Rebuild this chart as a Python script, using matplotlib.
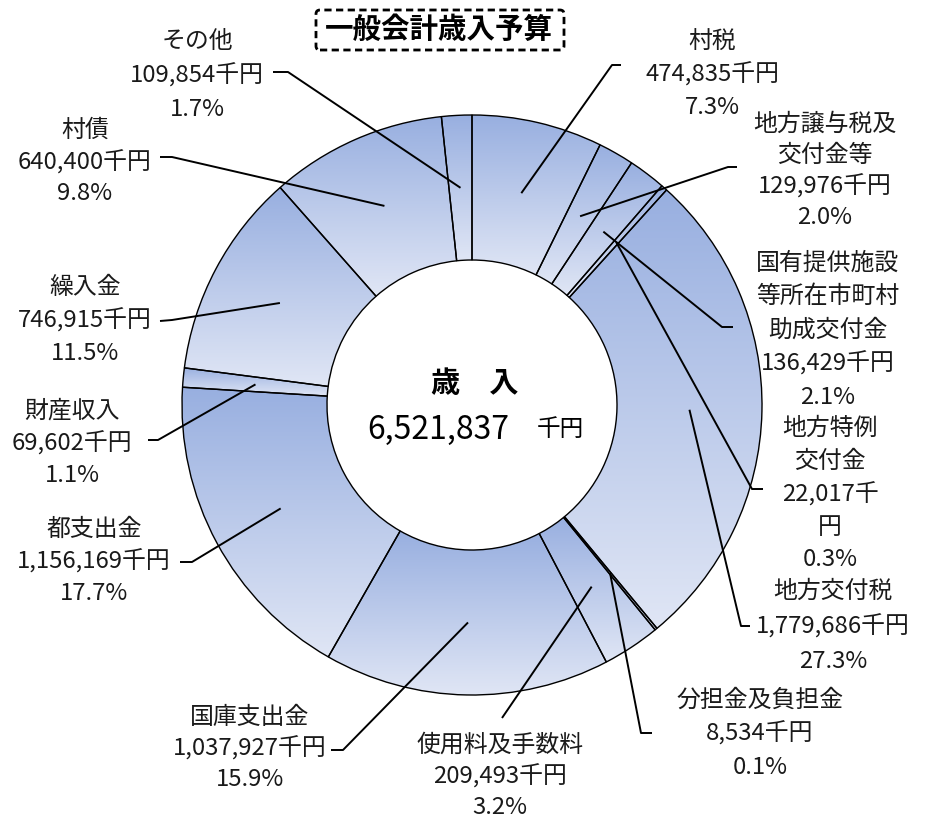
import numpy as np
import matplotlib
matplotlib.use("Agg")
import matplotlib.pyplot as plt
from matplotlib.patches import FancyBboxPatch

plt.rcParams['font.family'] = ['Noto Sans CJK JP', 'DejaVu Sans']

# ---------------- data ----------------
categories = ["村税", "地方譲与税及\n交付金等", "国有提供施設\n等所在市町村\n助成交付金",
              "地方特例\n交付金", "地方交付税", "分担金及負担金", "使用料及手数料",
              "国庫支出金", "都支出金", "財産収入", "繰入金", "村債", "その他"]
values = [474835, 129976, 136429, 22017, 1779686, 8534, 209493,
          1037927, 1156169, 69602, 746915, 640400, 109854]
total_label = "6,521,837"
title = "一般会計歳入予算"

# ---------------- layout (pixels, y measured from top) ----------------
W, H = 933, 827
CX, CY, R = 472, 405, 290

def Y(y):
    return H - y

# label text: centre x, first line y, line step
label_pos = [(712, 42, 32.5), (825, 124, 31), (828, 263, 33.5), (830, 428, 33),
             (833, 591, 35), (760, 700, 33.5), (500, 745, 31.5), (250, 717, 31.5),
             (94, 529, 32.5), (72, 411, 32.5), (85, 288, 32.5), (85, 130, 32),
             (197, 42, 33.5)]
# leader elbows (near text end, bend point)
leader_pts = [[(621, 65), (612, 65)], [(737, 167), (728, 167)], [(733, 327), (722, 327)],
              [(763, 489), (752, 489)], [(750, 626), (741, 626)], [(652, 733), (641, 733)],
              [(502, 718)], [(331, 750), (343, 750)], [(180, 562), (192, 562)],
              [(148, 440), (158, 440)], [(160, 321), (172, 320)], [(160, 157), (172, 157)],
              [(273, 72), (288, 72)]]

fig = plt.figure(figsize=(W / 100, H / 100), dpi=100)
ax = fig.add_axes([0, 0, 1, 1])

wedges, _ = ax.pie(values, radius=R, center=(CX, Y(CY)), startangle=90,
                   counterclock=False,
                   wedgeprops=dict(width=R / 2, edgecolor='black', linewidth=1.0,
                                   facecolor='none'))

# gradient fill inside each wedge
top_c = np.array([152, 175, 224]) / 255
bot_c = np.array([224, 230, 245]) / 255
grad = np.linspace(0, 1, 256)[:, None, None]
img = top_c[None, None, :] * (1 - grad) + bot_c[None, None, :] * grad
img = np.repeat(img, 2, axis=1)
for w in wedges:
    ext = w.get_path().get_extents()
    im = ax.imshow(img, extent=(ext.x0, ext.x1, ext.y0, ext.y1), origin='upper',
                   aspect='auto', zorder=0.5, interpolation='bilinear')
    im.set_clip_path(w)
    w.set_zorder(1)

total = sum(values)
frac = np.array(values) / total
cum = np.concatenate([[0], np.cumsum(frac)[:-1]])

for i, (name, v) in enumerate(zip(categories, values)):
    val = f"{v:,}千円"
    pct = f"{v / total * 100:.1f}%"
    lines = name.split("\n")
    if i == 3:
        lines += [val[:-1], val[-1]]
    else:
        lines += [val]
    lines += [pct]
    x0, y0, dy = label_pos[i]
    for k, t in enumerate(lines):
        ax.text(x0, Y(y0 + k * dy), t, ha='center', va='center', fontsize=17.2,
                color='#1a1a1a', zorder=5)
    # leader line to point in wedge at mid-angle
    ang = np.deg2rad(90 - 360 * (cum[i] + frac[i] / 2))
    r = 0.75 * R
    ax_pt = (CX + r * np.cos(ang), Y(CY) + r * np.sin(ang))
    pts = [(px, Y(py)) for px, py in leader_pts[i]] + [ax_pt]
    xs, ys = zip(*pts)
    ax.plot(xs, ys, color='black', lw=1.4, zorder=4, solid_capstyle='butt')

# centre text
ax.text(475, Y(383), "歳　入", ha='center', va='center', fontsize=21,
        fontweight='bold', color='black')
ax.text(438, Y(430), total_label, ha='center', va='center', fontsize=23, color='black')
ax.text(560, Y(430), "千円", ha='center', va='center', fontsize=17, color='black')

# title with dashed box
ax.text(439, Y(30), title, ha='center', va='center', fontsize=20.5,
        fontweight='bold', color='black', zorder=6)
box = FancyBboxPatch((316, Y(50)), 248, 40, boxstyle="round,pad=0,rounding_size=4",
                     fill=False, edgecolor='black', lw=2.0,
                     linestyle=(0, (2.6, 1.6)), zorder=6)
ax.add_patch(box)

ax.set_xlim(0, W)
ax.set_ylim(0, H)
ax.set_aspect('equal')
ax.axis('off')

fig.savefig("out.png", dpi=100, facecolor='white')
